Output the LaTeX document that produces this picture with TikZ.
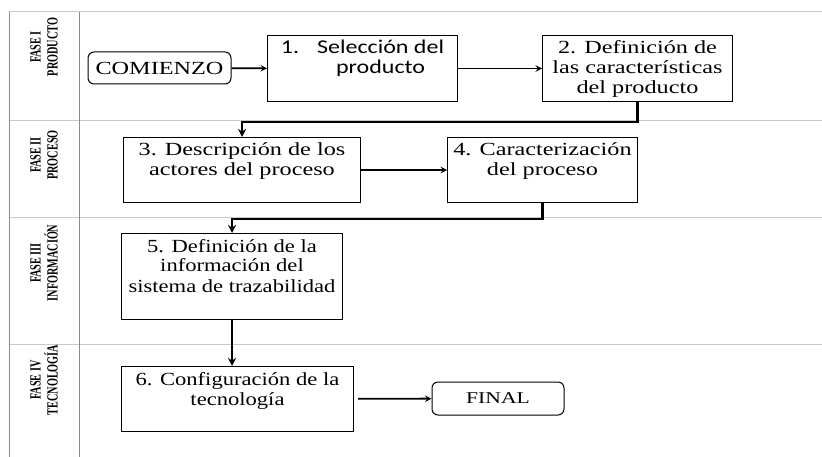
\documentclass[tikz,border=0pt]{standalone}
\usepackage{fontspec}
\usetikzlibrary{arrows,positioning}
\newfontfamily\serifwide[FakeStretch=1.31]{Liberation Serif}
\newfontfamily\serifmid[FakeStretch=1.22]{Liberation Serif}
\newfontfamily\sanswide[FakeStretch=1.23]{Carlito}
\newfontfamily\lanenarrow[FakeStretch=0.66]{Liberation Serif}
\definecolor{lanegray}{RGB}{200,200,200}
\definecolor{edgegray}{RGB}{140,140,140}
\tikzset
{
    process/.style  = {rectangle, draw=black, line width=1pt, inner sep=0pt, anchor=north west},
    terminal/.style = {rectangle, rounded corners=6pt, draw=black, line width=1pt, inner sep=0pt, align=center},
    phase/.style    = {rotate=90, align=center, inner sep=0pt, font=\lanenarrow\bfseries\fontsize{15.5}{17}\selectfont},
    lanerule/.style = {draw=lanegray, line width=1pt},
    laneedge/.style = {draw=edgegray, line width=1pt},
    arrow/.style    = {line width=1.8pt, ->, >=stealth},
    elbow/.style    = {line width=2.6pt, ->, >=stealth}
}

\begin{document}
\begin{tikzpicture}[x=1pt, y=-1pt, font=\serifwide\fontsize{18.5}{19.7}\selectfont]
\useasboundingbox (0,0) rectangle (822,457);
\newcommand\stepText[3]{\parbox[c][#2][t]{#1}{\centering\rule{0pt}{18.5pt}#3}}
% lanes
\foreach \y in {12,121,218,344}
    \draw[lanerule] (9,\y) -- (822,\y);
\foreach \x in {9,79}
    \draw[laneedge] (\x,12) -- (\x,457);
\node(f1) [phase] at (44,47) {FASE I\\PRODUCTO};
\node(f2) [phase] at (44,155) {FASE II\\PROCESO};
\node(f3) [phase] at (44,263) {FASE III\\INFORMACIÓN};
\node(f4) [phase] at (44,380) {FASE IV\\TECNOLOGÍA};
% steps
\node(start) [terminal, minimum width=143pt, minimum height=32pt] at (159.5,68) {COMIENZO};
\node(s1) [process] at (267,35) {\stepText{190pt}{66pt}{\sanswide\fontsize{19.5}{20}\selectfont 1.\hspace{18pt}\begin{tabular}[t]{@{}c@{}}Selección del\\producto\end{tabular}}};
\node(s2) [process] at (542,35) {\stepText{190pt}{66pt}{2. Definición de\\las características\\del producto}};
\node(s3) [process] at (123,137) {\stepText{237pt}{65pt}{3. Descripción de los\\actores del proceso}};
\node(s4) [process] at (447,137) {\stepText{190pt}{65pt}{4. Caracterización\\del proceso}};
\node(s5) [process, font=\serifmid\fontsize{18.5}{20}\selectfont] at (121,233) {\stepText{221pt}{86pt}{5. Definición de la\\información del\\sistema de trazabilidad}};
\node(s6) [process, font=\serifmid\fontsize{18.5}{20}\selectfont] at (121,366) {\stepText{232pt}{65pt}{6. Configuración de la\\tecnología}};
\node(fin) [terminal, font=\serifwide\fontsize{16.5}{18}\selectfont, minimum width=132pt, minimum height=33pt] at (498,398.5) {FINAL};
\draw[arrow] (start) -- (s1);
\draw[arrow] (s1) -- (s2);
\draw[elbow] (s2.south) -- ++(0,20) -| (s3.north);
\draw[arrow] (s3) -- (s4);
\draw[elbow] (s4.south) -- ++(0,16) -| (s5.north);
\draw[elbow] (s5.south) -- (s5.south |- s6.north);
\draw[arrow, shorten <=4pt] (s6) -- (fin);
\end{tikzpicture}
\end{document}
